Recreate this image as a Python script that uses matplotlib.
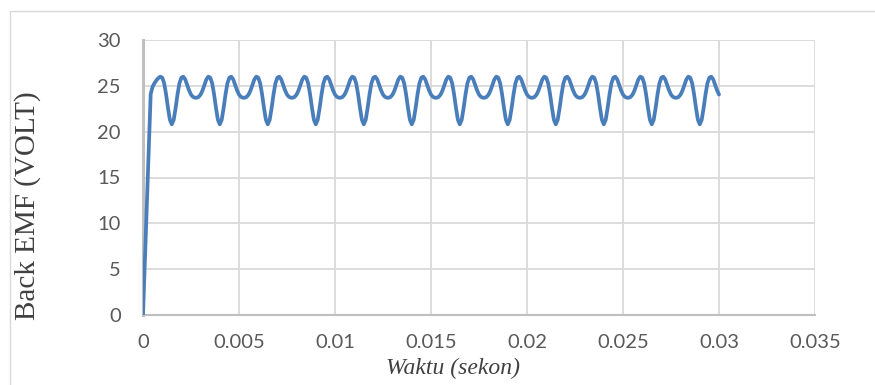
import matplotlib
matplotlib.use('Agg')
import matplotlib.pyplot as plt
from matplotlib.patches import Rectangle

# back EMF readings, one sample every 0.1 ms (0 .. 30 ms)
emf_start = [0.0, 6.0, 12.0, 18.0, 24.1, 24.9, 25.3, 25.6, 25.85, 26.0, 25.9, 25.3, 24.1, 22.6, 21.3]
emf_cycles = [
    [20.8, 21.3, 22.6, 24.1, 25.3, 25.9, 26.0, 25.7, 25.1, 24.5, 24.05, 23.8, 23.7, 23.7, 23.8, 24.05, 24.5, 25.1, 25.7, 26.0, 25.9, 25.3, 24.1, 22.6, 21.3],
    [20.8, 21.3, 22.6, 24.1, 25.3, 25.9, 26.0, 25.7, 25.1, 24.5, 24.05, 23.8, 23.7, 23.7, 23.8, 24.05, 24.5, 25.1, 25.7, 26.0, 25.9, 25.3, 24.1, 22.6, 21.3],
    [20.8, 21.3, 22.6, 24.1, 25.3, 25.9, 26.0, 25.7, 25.1, 24.5, 24.05, 23.8, 23.7, 23.7, 23.8, 24.05, 24.5, 25.1, 25.7, 26.0, 25.9, 25.3, 24.1, 22.6, 21.3],
    [20.8, 21.3, 22.6, 24.1, 25.3, 25.9, 26.0, 25.7, 25.1, 24.5, 24.05, 23.8, 23.7, 23.7, 23.8, 24.05, 24.5, 25.1, 25.7, 26.0, 25.9, 25.3, 24.1, 22.6, 21.3],
    [20.8, 21.3, 22.6, 24.1, 25.3, 25.9, 26.0, 25.7, 25.1, 24.5, 24.05, 23.8, 23.7, 23.7, 23.8, 24.05, 24.5, 25.1, 25.7, 26.0, 25.9, 25.3, 24.1, 22.6, 21.3],
    [20.8, 21.3, 22.6, 24.1, 25.3, 25.9, 26.0, 25.7, 25.1, 24.5, 24.05, 23.8, 23.7, 23.7, 23.8, 24.05, 24.5, 25.1, 25.7, 26.0, 25.9, 25.3, 24.1, 22.6, 21.3],
    [20.8, 21.3, 22.6, 24.1, 25.3, 25.9, 26.0, 25.7, 25.1, 24.5, 24.05, 23.8, 23.7, 23.7, 23.8, 24.05, 24.5, 25.1, 25.7, 26.0, 25.9, 25.3, 24.1, 22.6, 21.3],
    [20.8, 21.3, 22.6, 24.1, 25.3, 25.9, 26.0, 25.7, 25.1, 24.5, 24.05, 23.8, 23.7, 23.7, 23.8, 24.05, 24.5, 25.1, 25.7, 26.0, 25.9, 25.3, 24.1, 22.6, 21.3],
    [20.8, 21.3, 22.6, 24.1, 25.3, 25.9, 26.0, 25.7, 25.1, 24.5, 24.05, 23.8, 23.7, 23.7, 23.8, 24.05, 24.5, 25.1, 25.7, 26.0, 25.9, 25.3, 24.1, 22.6, 21.3],
    [20.8, 21.3, 22.6, 24.1, 25.3, 25.9, 26.0, 25.7, 25.1, 24.5, 24.05, 23.8, 23.7, 23.7, 23.8, 24.05, 24.5, 25.1, 25.7, 26.0, 25.9, 25.3, 24.1, 22.6, 21.3],
    [20.8, 21.3, 22.6, 24.1, 25.3, 25.9, 26.0, 25.7, 25.1, 24.5, 24.05, 23.8, 23.7, 23.7, 23.8, 24.05, 24.5, 25.1, 25.7, 26.0, 25.9, 25.3, 24.1, 22.6, 21.3],
]
emf_end = [20.8, 21.3, 22.6, 24.1, 25.3, 25.9, 26.0, 25.7, 25.1, 24.5, 24.05]

emf = list(emf_start)
for c in emf_cycles:
    emf += c
emf += emf_end
dt = 0.0001
waktu = [i * dt for i in range(len(emf))]

xticks = [0, 0.005, 0.01, 0.015, 0.02, 0.025, 0.03, 0.035]
xticklabels = ['0', '0.005', '0.01', '0.015', '0.02', '0.025', '0.03', '0.035']
yticks = [0, 5, 10, 15, 20, 25, 30]

W, H = 875, 385
fig = plt.figure(figsize=(W / 100, H / 100), dpi=100)
ax = fig.add_axes([143 / W, 1 - 315 / H, 672 / W, 275 / H])

ax.plot(waktu, emf, color='#4A7EBB', lw=2.7, solid_joinstyle='round', solid_capstyle='round', zorder=3)

ax.set_xlim(0, 0.035)
ax.set_ylim(0, 30)
ax.set_xticks(xticks)
ax.set_xticklabels(xticklabels)
ax.set_yticks(yticks)
ax.grid(True, color='#D9D9D9', lw=1.3)
ax.set_axisbelow(True)
for s in ['top', 'right']:
    ax.spines[s].set_visible(False)
ax.spines['left'].set_color('#BFBFBF')
ax.spines['left'].set_linewidth(2.2)
ax.spines['bottom'].set_color('#BFBFBF')
ax.spines['bottom'].set_linewidth(1.5)
ax.tick_params(axis='both', length=0, labelsize=14.5, labelcolor='#595959')
ax.tick_params(axis='x', pad=14)
ax.tick_params(axis='y', pad=16)
for lab in ax.get_xticklabels() + ax.get_yticklabels():
    lab.set_family('Lato')

fig.text(28 / W, 1 - 206 / H, 'Back EMF (VOLT)', rotation=90, ha='center', va='center',
         family='Liberation Serif', fontsize=21, color='#404040')
fig.text(453 / W, 1 - 368 / H, 'Waktu (sekon)', ha='center', va='center',
         family='Liberation Serif', style='italic', fontsize=17, color='#404040')

# chart area border
fig.patches.append(Rectangle((10 / W, -0.1), 1.2, 1.1 - 11 / H, transform=fig.transFigure,
                             fill=False, edgecolor='#D9D9D9', lw=1))

fig.savefig('out.png', dpi=100)
